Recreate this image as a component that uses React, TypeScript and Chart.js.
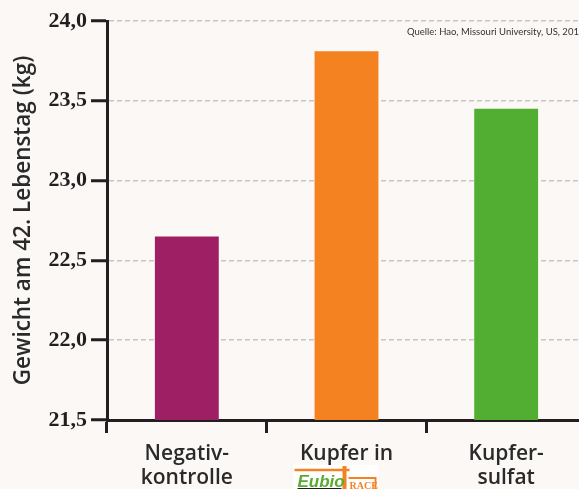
import React, { useEffect, useRef } from "react";
import { Chart, registerables } from "chart.js";
Chart.register(...registerables);

const categories: string[][] = [["Negativ-", "kontrolle"], ["Kupfer in", ""], ["Kupfer-", "sulfat"]];
const values: number[] = [22.65, 23.81, 23.45];
const barColors: string[] = ["#9e1f63", "#f58220", "#52ae32"];
const yTicks: number[] = [21.5, 22.0, 22.5, 23.0, 23.5, 24.0];
const yTitle = "Gewicht am 42. Lebenstag (kg)";
const sourceNote = "Quelle: Hao, Missouri University, US, 2010";
const logoLeft = "Eubio";
const logoRight = "RACE";

const DARK = "#231f20";

const overlayPlugin = {
  id: "overlay",
  afterDraw(chart: any) {
    const ctx = chart.ctx as CanvasRenderingContext2D;
    const { left, top } = chart.chartArea;
    const xs = chart.scales.x;
    ctx.save();
    // source note
    ctx.font = "9.5px Lato";
    ctx.fillStyle = "#333333";
    ctx.textAlign = "left";
    ctx.textBaseline = "alphabetic";
    ctx.fillText(sourceNote, left + 300, top + 14);

    // logo under "Kupfer in"
    const cx = xs.getPixelForValue(1) - 12;
    const y0 = xs.top + 50;
    ctx.fillStyle = "#ffffff";
    ctx.fillRect(cx - 41, y0 - 5, 85, 30);
    ctx.strokeStyle = "#f58220";
    ctx.lineWidth = 2.5;
    ctx.beginPath();
    ctx.moveTo(cx - 40, y0);
    ctx.lineTo(cx + 15, y0);
    ctx.stroke();
    ctx.lineWidth = 4;
    ctx.beginPath();
    ctx.moveTo(cx + 10, y0 - 4);
    ctx.lineTo(cx + 10, y0 + 22);
    ctx.stroke();
    ctx.lineWidth = 2;
    ctx.beginPath();
    ctx.moveTo(cx + 14, y0 + 8);
    ctx.lineTo(cx + 41, y0 + 8);
    ctx.lineTo(cx + 41, y0 + 22);
    ctx.stroke();
    ctx.fillStyle = "#5aab2f";
    ctx.font = "italic bold 17px 'Liberation Sans'";
    ctx.fillText(logoLeft, cx - 37, y0 + 17);
    ctx.fillStyle = DARK;
    ctx.fillRect(cx - 37, y0 + 18, 44, 2);
    ctx.fillStyle = "#f58220";
    ctx.font = "bold 10px 'Liberation Serif'";
    ctx.fillText(logoRight, cx + 15, y0 + 19);
    ctx.restore();
  },
};

export default function App() {
  const ref = useRef<HTMLCanvasElement>(null);
  useEffect(() => {
    if (!ref.current) return;
    const chart = new Chart(ref.current, {
      type: "bar",
      data: {
        labels: categories,
        datasets: [
          {
            data: values,
            backgroundColor: barColors,
            barPercentage: 0.4,
            categoryPercentage: 1,
            borderWidth: 0,
          },
        ],
      },
      options: {
        responsive: false,
        animation: false,
        layout: { padding: { top: 21, right: 14, left: 0, bottom: 0 } },
        plugins: { legend: { display: false }, tooltip: { enabled: false } },
        scales: {
          x: {
            grid: {
              display: true,
              drawOnChartArea: false,
              drawTicks: true,
              tickLength: 13,
              tickWidth: 3,
              tickColor: DARK,
              offset: true,
            },
            border: { display: true, color: DARK, width: 3 },
            ticks: {
              color: "#2a2a2a",
              font: { family: "Open Sans", size: 21, weight: "600", lineHeight: 1.15 },
              padding: 9,
              maxRotation: 0,
              autoSkip: false,
            },
            afterFit: (s: any) => {
              s.height = 69;
            },
          },
          y: {
            min: 21.5,
            max: 24,
            afterBuildTicks: (s: any) => {
              s.ticks = yTicks.map((v) => ({ value: v }));
            },
            grid: {
              color: "#c6c6c6",
              lineWidth: 1.5,
              tickColor: DARK,
              tickWidth: 3,
              tickLength: 16,
              drawTicks: true,
            },
            border: { display: true, color: DARK, width: 3, dash: [5, 3] },
            ticks: {
              color: DARK,
              font: { family: "Liberation Serif", size: 22, weight: "bold" },
              padding: 4,
              callback: (v: any) => Number(v).toFixed(1).replace(".", ","),
            },
            title: {
              display: true,
              text: yTitle,
              color: "#2a2a2a",
              font: { family: "Open Sans", size: 22.5, weight: "600" },
              padding: { top: 10, bottom: 0 },
            },
            afterFit: (s: any) => {
              s.width = 107;
            },
          },
        },
      } as any,
      plugins: [overlayPlugin],
    });
    return () => chart.destroy();
  }, []);
  return (
    <div
      style={{
        position: "fixed",
        left: 0,
        top: 0,
        width: 579,
        height: 489,
        overflow: "hidden",
        background: "#fbf8f5",
      }}
    >
      <canvas ref={ref} width={600} height={489} style={{ display: "block" }} />
    </div>
  );
}
